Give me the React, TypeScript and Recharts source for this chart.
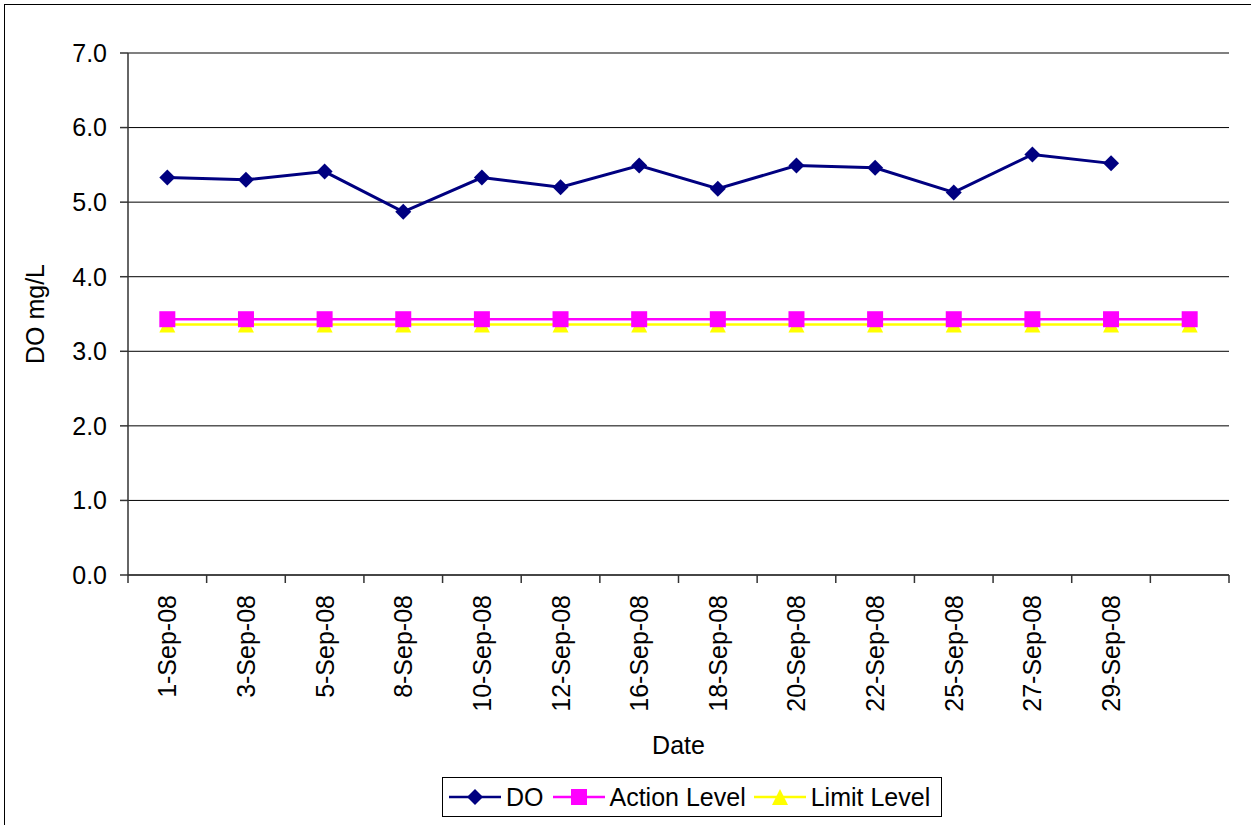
import React from 'react';
import {
  ComposedChart,
  Line,
  XAxis,
  YAxis,
  CartesianGrid,
  ReferenceLine,
} from 'recharts';

// category labels (last band is empty in the original sheet)
const DATES = [
  '1-Sep-08', '3-Sep-08', '5-Sep-08', '8-Sep-08', '10-Sep-08', '12-Sep-08', '16-Sep-08',
  '18-Sep-08', '20-Sep-08', '22-Sep-08', '25-Sep-08', '27-Sep-08', '29-Sep-08', '',
];

const DO_VALUES = [5.33, 5.30, 5.41, 4.87, 5.33, 5.20, 5.49, 5.18, 5.49, 5.46, 5.13, 5.64, 5.52, null];
const ACTION_LEVEL = [3.43, 3.43, 3.43, 3.43, 3.43, 3.43, 3.43, 3.43, 3.43, 3.43, 3.43, 3.43, 3.43, 3.43];
const LIMIT_LEVEL = [3.36, 3.36, 3.36, 3.36, 3.36, 3.36, 3.36, 3.36, 3.36, 3.36, 3.36, 3.36, 3.36, 3.36];
const Y_TICKS = [0, 1, 2, 3, 4, 5, 6, 7];

const FONT = '"Liberation Sans", Arial, sans-serif';
const FONT_SIZE = 25;

const W = 1251;
const H = 825;
const MARGIN = { top: 53, right: 22, bottom: 0, left: 68 };
const Y_AXIS_W = 60;
const X_AXIS_H = 250;
const PLOT_W = W - MARGIN.left - MARGIN.right - Y_AXIS_W;
const BAND = PLOT_W / DATES.length;

const NAVY = '#000080';
const MAGENTA = '#FF00FF';
const YELLOW = '#FFFF00';

const chartData = DATES.map((date, i) => ({
  date,
  do: DO_VALUES[i],
  action: ACTION_LEVEL[i],
  limit: LIMIT_LEVEL[i],
}));

const Diamond = ({ cx, cy, r = 8, fill }: any) => (
  <polygon points={`${cx},${cy - r} ${cx + r},${cy} ${cx},${cy + r} ${cx - r},${cy}`} fill={fill} />
);
const Square = ({ cx, cy, s = 8, fill }: any) => (
  <rect x={cx - s} y={cy - s} width={s * 2} height={s * 2} fill={fill} />
);
const Triangle = ({ cx, cy, s = 8, fill }: any) => (
  <polygon points={`${cx},${cy - s} ${cx + s},${cy + s} ${cx - s},${cy + s}`} fill={fill} />
);

const makeDot = (Shape: any, fill: string) => (props: any) => {
  const { cx, cy, index } = props;
  if (cx == null || cy == null || props.value == null) return <g key={`d-${index}`} />;
  return <Shape key={`d-${index}`} cx={cx} cy={cy} fill={fill} />;
};

// label at band centre, tick marks on band boundaries (Excel style)
const DateTick = (props: any) => {
  const { x, y, payload, index } = props;
  const last = index === DATES.length - 1;
  return (
    <g>
      <line x1={x - BAND / 2} x2={x - BAND / 2} y1={y} y2={y + 8} stroke="#333" strokeWidth={1.5} />
      {last && <line x1={x + BAND / 2} x2={x + BAND / 2} y1={y} y2={y + 8} stroke="#333" strokeWidth={1.5} />}
      <text
        x={x}
        y={y + 20}
        transform={`rotate(-90, ${x}, ${y + 20})`}
        textAnchor="end"
        dominantBaseline="central"
        fontFamily={FONT}
        fontSize={FONT_SIZE}
        fill="#000"
      >
        {payload.value}
      </text>
    </g>
  );
};

const LegendItem = ({ color, Shape, label, gap }: any) => (
  <div style={{ display: 'flex', alignItems: 'center', marginRight: gap }}>
    <svg width={52} height={20}>
      <line x1={0} x2={52} y1={10} y2={10} stroke={color} strokeWidth={2.5} />
      <Shape cx={26} cy={10} fill={color} />
    </svg>
    <span style={{ marginLeft: 5 }}>{label}</span>
  </div>
);

export default function App() {
  return (
    <div style={{ position: 'fixed', left: 0, top: 0, width: W, height: H, background: '#fff', overflow: 'hidden' }}>
      {/* outer chart frame, cut off right/bottom in the source */}
      <div style={{ position: 'absolute', left: 4, top: 4, width: W + 20, height: H + 20, border: '1.5px solid #000' }} />

      <div style={{ position: 'absolute', left: 0, top: 0 }}>
        <ComposedChart width={W} height={H} data={chartData} margin={MARGIN}>
          <CartesianGrid horizontal vertical={false} stroke="#000" strokeWidth={1} />
          <XAxis
            dataKey="date"
            scale="band"
            height={X_AXIS_H}
            interval={0}
            tickLine={false}
            tickSize={0}
            tickMargin={0}
            axisLine={{ stroke: '#333', strokeWidth: 1.5 }}
            tick={<DateTick />}
            label={(p: any) => {
              const vb = p.viewBox;
              return (
                <text
                  x={vb.x + vb.width / 2}
                  y={vb.y + 170}
                  textAnchor="middle"
                  dominantBaseline="central"
                  fontFamily={FONT}
                  fontSize={FONT_SIZE}
                  fill="#000"
                >
                  Date
                </text>
              );
            }}
          />
          <YAxis
            width={Y_AXIS_W}
            domain={[0, 7]}
            ticks={Y_TICKS}
            interval={0}
            tickFormatter={(v: number) => v.toFixed(1)}
            tickSize={8}
            tickMargin={13}
            axisLine={{ stroke: '#333', strokeWidth: 1.5 }}
            tickLine={{ stroke: '#333', strokeWidth: 1.5 }}
            tick={{ fill: '#000', fontFamily: FONT, fontSize: FONT_SIZE }}
            label={(p: any) => {
              const vb = p.viewBox;
              const cx = vb.x - 33;
              const cy = vb.y + vb.height / 2;
              return (
                <text
                  x={cx}
                  y={cy}
                  transform={`rotate(-90, ${cx}, ${cy})`}
                  textAnchor="middle"
                  dominantBaseline="central"
                  fontFamily={FONT}
                  fontSize={FONT_SIZE}
                  fill="#000"
                >
                  DO mg/L
                </text>
              );
            }}
          />
          <YAxis
            yAxisId="r"
            orientation="right"
            width={0}
            domain={[0, 7]}
            tick={false}
            tickLine={false}
            axisLine={{ stroke: '#808080', strokeWidth: 2 }}
          />
          <ReferenceLine y={7} stroke="#808080" strokeWidth={2} />
          <Line
            dataKey="limit"
            stroke={YELLOW}
            strokeWidth={2.5}
            dot={makeDot(Triangle, YELLOW)}
            isAnimationActive={false}
          />
          <Line
            dataKey="action"
            stroke={MAGENTA}
            strokeWidth={2.5}
            dot={makeDot(Square, MAGENTA)}
            isAnimationActive={false}
          />
          <Line
            dataKey="do"
            stroke={NAVY}
            strokeWidth={3}
            dot={makeDot(Diamond, NAVY)}
            isAnimationActive={false}
          />
        </ComposedChart>
      </div>

      <div
        style={{
          position: 'absolute',
          left: 442,
          top: 777,
          width: 500,
          height: 40,
          boxSizing: 'border-box',
          border: '1px solid #000',
          display: 'flex',
          alignItems: 'center',
          paddingLeft: 6,
          fontFamily: FONT,
          fontSize: FONT_SIZE,
          color: '#000',
          background: '#fff',
        }}
      >
        <LegendItem color={NAVY} Shape={Diamond} label="DO" gap={9} />
        <LegendItem color={MAGENTA} Shape={Square} label="Action Level" gap={8} />
        <LegendItem color={YELLOW} Shape={Triangle} label="Limit Level" gap={0} />
      </div>
    </div>
  );
}
